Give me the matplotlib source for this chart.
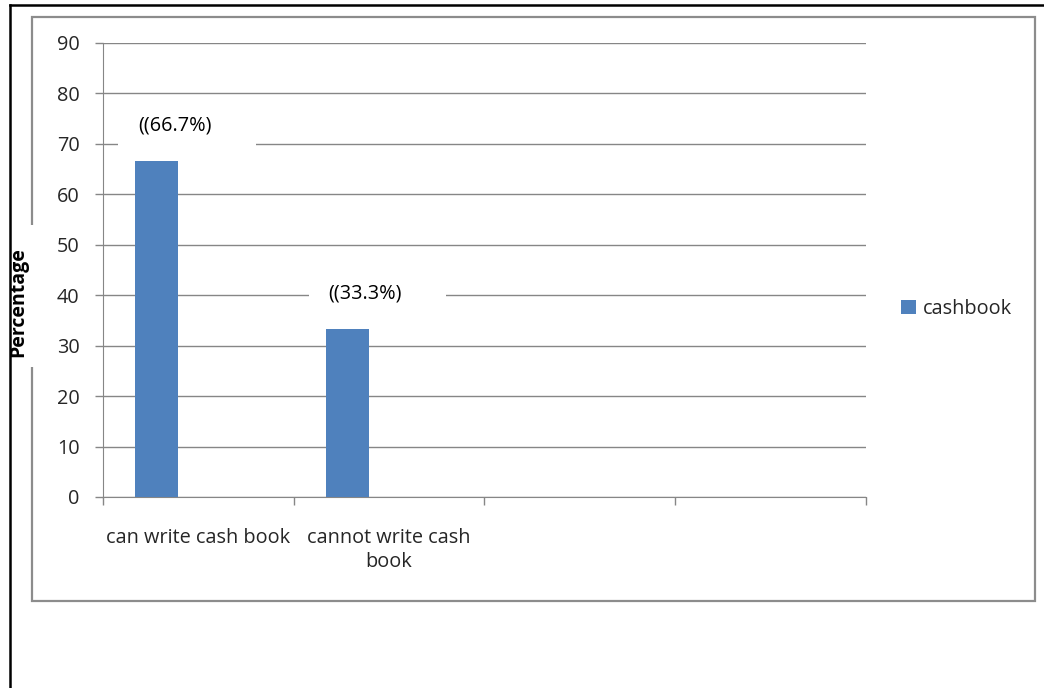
import matplotlib.pyplot as plt
from matplotlib.patches import Rectangle
from matplotlib.lines import Line2D

categories = ["can write cash book", "cannot write cash\nbook", "", ""]
values = [66.7, 33.3]
series_name = "cashbook"
yticks = [0, 10, 20, 30, 40, 50, 60, 70, 80, 90]

BLUE = "#4F81BD"
GRID = "#868686"
TXT = "#262626"
FS = 14.3

plt.rcParams["font.family"] = ["Open Sans", "DejaVu Sans"]

fig = plt.figure(figsize=(10.44, 6.88), dpi=100)
W, H = 1044.0, 688.0

# outer black frame (top and left edges only)
fig.add_artist(Line2D([10 / W, 1.0], [1 - 5 / H, 1 - 5 / H], color="black", lw=1.8))
fig.add_artist(Line2D([10 / W, 10 / W], [0, 1 - 5 / H], color="black", lw=1.8))

# grey chart-area border
fig.add_artist(Rectangle((32 / W, 1 - 601 / H), (1035 - 32) / W, (601 - 17) / H,
                         transform=fig.transFigure, fill=False, ec="#8c8c8c", lw=1.6))

ax = fig.add_axes([103 / W, 1 - 497 / H, (866 - 103) / W, (497 - 43) / H])

n = len(categories)
slot_centers = [i + 0.5 for i in range(n)]
bar_x = [slot_centers[i] - 0.22 for i in range(len(values))]
bars = ax.bar(bar_x, values, width=0.225, color=BLUE, label=series_name, zorder=3)

# value labels sitting on white boxes above the bars
for x, v in zip(bar_x, values):
    ax.add_patch(Rectangle((x - 0.2, v), 0.72, 12, fc="white", ec="none", zorder=2))
    ax.text(x + 0.095, v + 7.0, "((%.1f%%)" % v, ha="center", va="center",
            fontsize=FS, color="black", zorder=4)

ax.set_xlim(0, n)
ax.set_ylim(0, 90)
ax.set_yticks(yticks)
ax.set_yticklabels([str(t) for t in yticks])
ax.yaxis.grid(True, color=GRID, lw=1.0, zorder=0)
ax.set_axisbelow(True)

ax.set_xticks(range(n + 1))
ax.set_xticklabels([])
ax.set_xticks(slot_centers, minor=True)
ax.set_xticklabels(categories, minor=True, fontsize=FS, color=TXT, linespacing=1.3)
ax.tick_params(axis="x", which="minor", length=0, pad=22)
ax.tick_params(axis="x", which="major", length=6, color=GRID, width=1)
ax.tick_params(axis="y", length=6, color=GRID, width=1, labelsize=FS,
               labelcolor=TXT, pad=11)

for s in ["top", "right"]:
    ax.spines[s].set_visible(False)
ax.spines["left"].set_color(GRID)
ax.spines["bottom"].set_color(GRID)

ax.legend(loc="center left", bbox_to_anchor=(1.023, 0.414), frameon=False,
          fontsize=FS, handlelength=0.75, handleheight=0.75, handletextpad=0.35,
          labelcolor=TXT)

# white patch behind the y-axis title, covering the frame lines
fig.add_artist(Rectangle((0, 1 - 367 / H), 55 / W, (367 - 225) / H,
                         transform=fig.transFigure, fc="white", ec="none"))
fig.text(18 / W, 1 - 302 / H, "Percentage", rotation=90, ha="center", va="center",
         fontsize=14, fontweight="bold", color="black")

fig.savefig("out.png", dpi=100)
